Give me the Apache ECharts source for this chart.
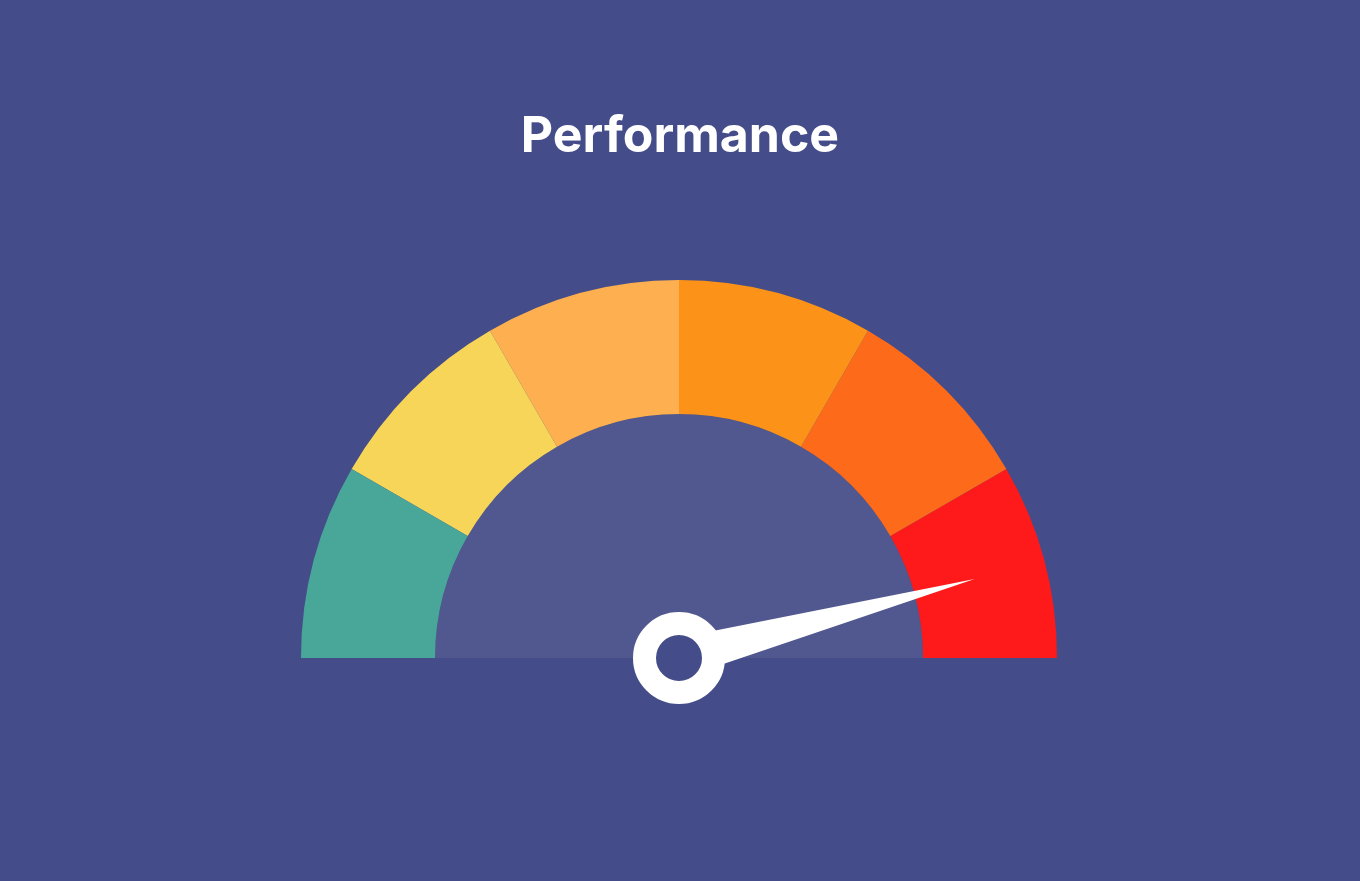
<!DOCTYPE html>
<html>
<head>
<meta charset="utf-8">
<script src="https://cdn.jsdelivr.net/npm/echarts@6/dist/echarts.min.js"></script>
<style>
  html, body { margin: 0; padding: 0; background: #444d89; }
  #chart { width: 1360px; height: 881px; }
</style>
</head>
<body>
<div id="chart"></div>
<script>
var titleText = 'Performance';
// band end positions (fraction of the scale) and their colours
var bandStops = [1 / 6, 2 / 6, 3 / 6, 4 / 6, 5 / 6, 1];
var bandColors = ['#49a79a', '#f7d558', '#feaf4f', '#fc9318', '#fd6b1a', '#fe1a1a'];
var gaugeValue = [91.7];

var chart = echarts.init(document.getElementById('chart'));

var bands = bandStops.map(function (s, i) { return [s, bandColors[i]]; });

chart.setOption({
  backgroundColor: '#444d89',
  title: {
    text: titleText,
    left: 'center',
    top: 107,
    textStyle: {
      color: '#ffffff',
      fontFamily: 'Inter',
      fontWeight: 700,
      fontSize: 50
    }
  },
  series: [
    {
      // inner half disc
      type: 'gauge',
      center: [679, 658],
      radius: 244,
      startAngle: 180,
      endAngle: 0,
      silent: true,
      axisLine: { lineStyle: { width: 244, color: [[1, '#51588f']] } },
      axisTick: { show: false },
      splitLine: { show: false },
      axisLabel: { show: false },
      pointer: { show: false },
      detail: { show: false },
      title: { show: false },
      data: []
    },
    {
      type: 'gauge',
      center: [679, 658],
      radius: 378,
      startAngle: 180,
      endAngle: 0,
      min: 0,
      max: 100,
      axisLine: { lineStyle: { width: 134, color: bands } },
      axisTick: { show: false },
      splitLine: { show: false },
      axisLabel: { show: false },
      pointer: {
        icon: 'path://M5,0 L10,100 L0,100 Z',
        length: 306,
        width: 40,
        keepAspect: false,
        itemStyle: { color: '#ffffff' }
      },
      anchor: {
        show: true,
        showAbove: true,
        size: 69,
        itemStyle: {
          color: '#444d89',
          borderColor: '#ffffff',
          borderWidth: 23
        }
      },
      detail: { show: false },
      title: { show: false },
      data: gaugeValue.map(function (v) { return { value: v }; })
    }
  ]
});
</script>
</body>
</html>
